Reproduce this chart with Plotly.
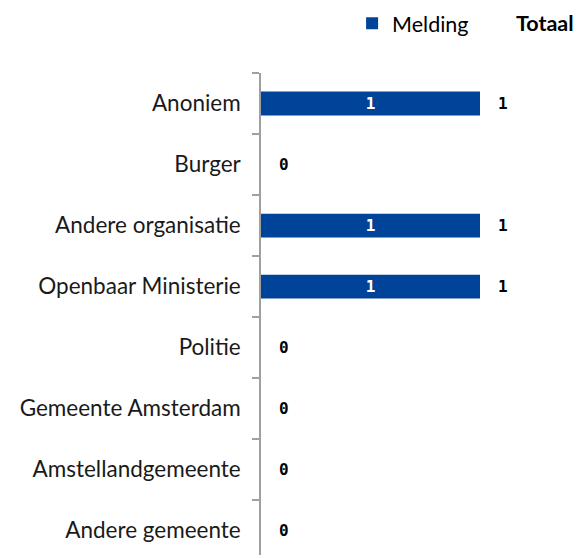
import plotly.graph_objects as go

categories = ["Anoniem", "Burger", "Andere organisatie", "Openbaar Ministerie",
              "Politie", "Gemeente Amsterdam", "Amstellandgemeente", "Andere gemeente"]
melding = [1, 0, 1, 1, 0, 0, 0, 0]
totaal = [1, 0, 1, 1, 0, 0, 0, 0]

BLUE = "#00449A"
LABEL_FONT = "Lato"
NUM_FONT = "DejaVu Sans Mono"

fig = go.Figure()
fig.add_trace(go.Bar(
    y=categories, x=melding, orientation="h", name="Melding",
    marker=dict(color=BLUE, line=dict(width=0)),
    width=0.39,
    text=[str(v) if v else "" for v in melding],
    textposition="inside", insidetextanchor="middle",
    textangle=0, constraintext="none",
    textfont=dict(family=NUM_FONT, size=16, color="white", weight="bold"),
    hoverinfo="skip",
))

for c, t in zip(categories, totaal):
    fig.add_annotation(x=t, y=c, xref="x", yref="y", text=f"<b>{t}</b>",
                       showarrow=False, xanchor="left", xshift=16,
                       font=dict(family=NUM_FONT, size=16, color="black"))

fig.add_annotation(x=1.297, y=1.103, xref="paper", yref="paper", text="<b>Totaal</b>",
                   showarrow=False, xanchor="center", yanchor="middle",
                   font=dict(family=LABEL_FONT, size=21.5, color="black"))

fig.update_layout(
    width=573, height=550,
    margin=dict(l=253, r=101, t=65, b=3, autoexpand=False),
    paper_bgcolor="white", plot_bgcolor="white",
    showlegend=True,
    legend=dict(orientation="h", x=0.416, y=1.103, xanchor="left", yanchor="middle",
                font=dict(family=LABEL_FONT, size=21.5, color="black"),
                itemwidth=30, bgcolor="rgba(0,0,0,0)", borderwidth=0),
    xaxis=dict(range=[0, 1], visible=False, fixedrange=True),
    yaxis=dict(
        type="category", categoryorder="array", categoryarray=categories,
        range=[7.4, -0.5],
        showline=True, linecolor="#A0A0A0", linewidth=1.5,
        ticks="outside", tickson="boundaries", ticklen=7, tickcolor="#A0A0A0", tickwidth=1.5,
        ticklabelstandoff=14,
        showgrid=False, zeroline=False,
        tickfont=dict(family=LABEL_FONT, size=22.5, color="#1a1a1a"),
    ),
)

fig.write_html("out.html")
